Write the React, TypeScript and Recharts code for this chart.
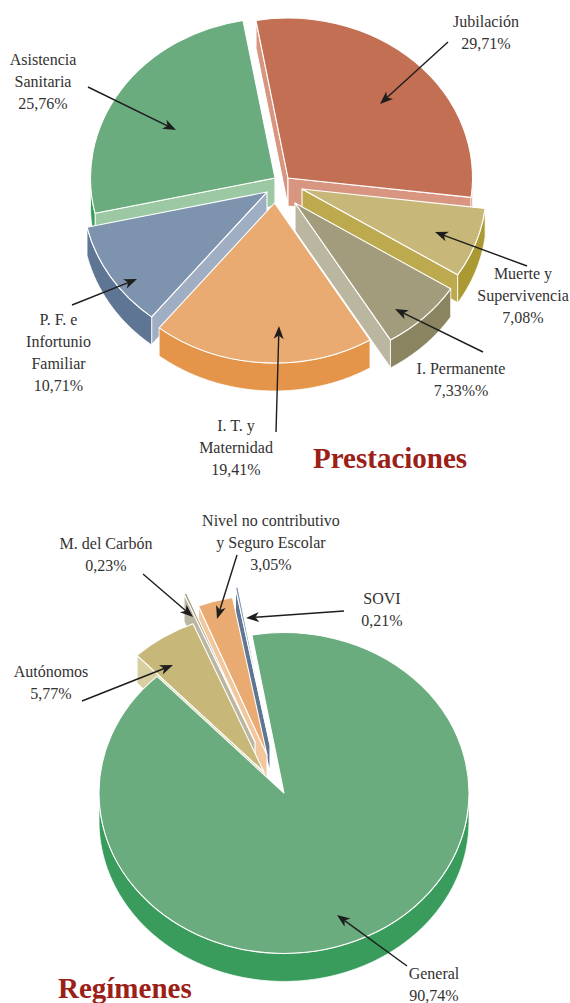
import React from 'react';
import { PieChart, Pie } from 'recharts';

// ---- data ----
const benefitNames = ['Jubilación', 'Muerte y Supervivencia', 'I. Permanente', 'I. T. y Maternidad', 'P. F. e Infortunio Familiar', 'Asistencia Sanitaria'];
const benefitValues = [29.71, 7.08, 7.33, 19.41, 10.71, 25.76];
const benefitPercentLabels = ['29,71%', '7,08%', '7,33%%', '19,41%', '10,71%', '25,76%'];
const schemeNames = ['General', 'Autónomos', 'M. del Carbón', 'Nivel no contributivo y Seguro Escolar', 'SOVI'];
const schemeValues = [90.74, 5.77, 0.23, 3.05, 0.21];
const schemePercentLabels = ['90,74%', '5,77%', '0,23%', '3,05%', '0,21%'];
const titles = ['Prestaciones', 'Regímenes'];

// ---- styles and layout (not data) ----
type Skin = { top: string; wall: string; cut: string | null; shift: [number, number] };
const benefitSkins: Skin[] = [
  { top: '#C26F53', wall: '#AE5A40', cut: '#D8957F', shift: [8, -12] },
  { top: '#C7B779', wall: '#AB9933', cut: '#BDA94E', shift: [22, -1] },
  { top: '#A29C7C', wall: '#8A8560', cut: '#BBB6A0', shift: [15, 13] },
  { top: '#E9AB71', wall: '#E49549', cut: '#F2C79D', shift: [-5.5, 13] },
  { top: '#7E93AD', wall: '#5E7694', cut: '#A0AEC4', shift: [-13, 2] },
  { top: '#6AAC7E', wall: '#3A9C5C', cut: '#9CC9A4', shift: [-5, -12] },
];
const schemeSkins: Skin[] = [
  { top: '#6AAC7E', wall: '#3A9C5C', cut: null, shift: [0, 0] },
  { top: '#C7B779', wall: '#AB9933', cut: '#D8CFA0', shift: [-20, -21] },
  { top: '#A29C7C', wall: '#8A8560', cut: '#BBB6A0', shift: [-29, -51] },
  { top: '#E9AB71', wall: '#E49549', cut: '#F2C79D', shift: [-17, -38] },
  { top: '#7E93AD', wall: '#5E7694', cut: '#5E7694', shift: [-14, -48] },
];
const benefitPaintOrder = [0, 5, 1, 4, 2, 3];
const schemePaintOrder = [4, 3, 2, 1, 0];
const SQUASH = 160 / 184.5;
const DEPTH = 28;
const SEAM = 1.1;
const INK = '#333232';
const ARROW = '#1e1d1d';
const TITLE_RED = '#9B2118';
const FONT = '"Liberation Serif", serif';

const rad = (d: number) => (d * Math.PI) / 180;

function Slice({ p, skin }: { p: any; skin: Skin }) {
  const rx = p.outerRadius;
  const ry = rx * SQUASH;
  const cx = p.cx + skin.shift[0];
  const cy = p.cy + skin.shift[1];
  const a0 = p.startAngle;
  const a1 = p.endAngle;
  const at = (a: number, dy = 0): [number, number] => [cx + rx * Math.cos(rad(a)), cy - ry * Math.sin(rad(a)) + dy];
  const f = (q: [number, number]) => `${q[0].toFixed(2)},${q[1].toFixed(2)}`;
  const large = Math.abs(a0 - a1) > 180 ? 1 : 0;
  const topPath = `M${f([cx, cy])} L${f(at(a0))} A${rx},${ry} 0 ${large} 1 ${f(at(a1))} Z`;
  const cutPath = (a: number) => `M${f([cx, cy])} L${f(at(a))} L${f(at(a, DEPTH))} L${f([cx, cy + DEPTH])} Z`;
  const lower: number[] = [];
  const steps = Math.max(2, Math.ceil(Math.abs(a0 - a1) * 2));
  for (let i = 0; i <= steps; i++) {
    const a = a0 + ((a1 - a0) * i) / steps;
    if (Math.sin(rad(a)) <= 0.001) lower.push(a);
  }
  const wallPath = lower.length > 1
    ? 'M' + lower.map((a) => f(at(a))).join(' L') + ' L' + lower.slice().reverse().map((a) => f(at(a, DEPTH))).join(' L') + ' Z'
    : '';
  const showStart = skin.cut && Math.cos(rad(a0)) < 0;
  const showEnd = skin.cut && Math.cos(rad(a1)) > 0;
  return (
    <g>
      {showStart && <path d={cutPath(a0)} fill={skin.cut!} stroke="#fff" strokeWidth={SEAM} strokeLinejoin="round" />}
      {showEnd && <path d={cutPath(a1)} fill={skin.cut!} stroke="#fff" strokeWidth={SEAM} strokeLinejoin="round" />}
      {wallPath && <path d={wallPath} fill={skin.wall} stroke="#fff" strokeWidth={0.8} strokeLinejoin="round" />}
      <path d={topPath} fill={skin.top} stroke="#fff" strokeWidth={SEAM} strokeLinejoin="round" />
    </g>
  );
}

const benefitData = benefitNames.map((name, i) => ({ name, value: benefitValues[i] }));
const schemeData = schemeNames.map((name, i) => ({ name, value: schemeValues[i] }));

type Note = { lines: string[]; x: number; y: number; from: [number, number]; to: [number, number] };
const benefitNotes: Note[] = [
  { lines: ['Jubilación', benefitPercentLabels[0]], x: 486, y: 27, from: [448, 42], to: [380, 104] },
  { lines: ['Muerte y', 'Supervivencia', benefitPercentLabels[1]], x: 523, y: 279, from: [527, 266], to: [435, 232] },
  { lines: ['I. Permanente', benefitPercentLabels[2]], x: 461, y: 374, from: [483, 352], to: [395, 309] },
  { lines: ['I. T. y', 'Maternidad', benefitPercentLabels[3]], x: 236, y: 431, from: [276, 432], to: [279, 326] },
  { lines: ['P. F. e', 'Infortunio', 'Familiar', benefitPercentLabels[4]], x: 58.5, y: 325, from: [72, 305], to: [137, 279] },
  { lines: ['Asistencia', 'Sanitaria', benefitPercentLabels[5]], x: 43, y: 65, from: [88, 87], to: [176, 130] },
];
const schemeNotes: Note[] = [
  { lines: ['General', schemePercentLabels[0]], x: 434, y: 979, from: [407, 966], to: [337, 915] },
  { lines: ['Autónomos', schemePercentLabels[1]], x: 51, y: 677, from: [82, 701], to: [173, 665] },
  { lines: ['M. del Carbón', schemePercentLabels[2]], x: 106, y: 549, from: [143, 574], to: [193, 617] },
  { lines: ['Nivel no contributivo', 'y Seguro Escolar', schemePercentLabels[3]], x: 271, y: 526, from: [237, 555], to: [217, 619] },
  { lines: ['SOVI', schemePercentLabels[4]], x: 382, y: 604, from: [344, 611], to: [246, 618] },
];

function NoteMark({ n }: { n: Note }) {
  const [x1, y1] = n.from;
  const [x2, y2] = n.to;
  const len = Math.hypot(x2 - x1, y2 - y1);
  const ux = (x2 - x1) / len;
  const uy = (y2 - y1) / len;
  const head = 13;
  const half = 5;
  const notch = 9.5;
  const bx = x2 - ux * head;
  const by = y2 - uy * head;
  const pts = [
    [x2, y2],
    [bx - uy * half, by + ux * half],
    [x2 - ux * notch, y2 - uy * notch],
    [bx + uy * half, by - ux * half],
  ].map((q) => q.map((v) => v.toFixed(2)).join(',')).join(' ');
  return (
    <g>
      <line x1={x1} y1={y1} x2={x2 - ux * notch} y2={y2 - uy * notch} stroke={ARROW} strokeWidth={1.4} />
      <polygon points={pts} fill={ARROW} />
      <text textAnchor="middle" fontFamily={FONT} fontSize={16} fill={INK}>
        {n.lines.map((t, j) => (
          <tspan key={j} x={n.x} y={n.y + j * 22.1}>{t}</tspan>
        ))}
      </text>
    </g>
  );
}

function layer(key: string, data: any[], k: number, skins: Skin[], cx: number, cy: number, r: number) {
  return (
    <Pie
      key={key}
      data={data}
      dataKey="value"
      nameKey="name"
      cx={cx}
      cy={cy}
      innerRadius={0}
      outerRadius={r}
      startAngle={100}
      endAngle={-260}
      stroke="none"
      label={false}
      labelLine={false}
      isAnimationActive={false}
      shape={(p: any) => (p.payload?.name === data[k].name || p.name === data[k].name ? <Slice p={p} skin={skins[k]} /> : <g />)}
    />
  );
}

function noteLayer(key: string, data: any[], notes: Note[], cx: number, cy: number, r: number, title: string, tx: number, ty: number) {
  return (
    <Pie
      key={key}
      data={data}
      dataKey="value"
      nameKey="name"
      cx={cx}
      cy={cy}
      innerRadius={0}
      outerRadius={r}
      startAngle={100}
      endAngle={-260}
      stroke="none"
      labelLine={false}
      isAnimationActive={false}
      shape={() => <g />}
      label={(p: any) => {
        const i = data.findIndex((d) => d.name === (p.payload?.name ?? p.name));
        return (
          <g>
            <NoteMark n={notes[i]} />
            {i === 0 && <text x={tx} y={ty} fontFamily={FONT} fontWeight={700} fontSize={29} fill={TITLE_RED}>{title}</text>}
          </g>
        );
      }}
    />
  );
}

export default function App() {
  return (
    <div style={{ position: 'absolute', left: 0, top: 0, width: 570, height: 1003, overflow: 'hidden', background: '#fff' }}>
      <PieChart width={570} height={1003} margin={{ top: 0, right: 0, bottom: 0, left: 0 }}>
        {benefitPaintOrder.map((k) => layer(`b${k}`, benefitData, k, benefitSkins, 280, 190, 184.5))}
        {schemePaintOrder.map((k) => layer(`s${k}`, schemeData, k, schemeSkins, 284, 793, 185))}
        {noteLayer('bn', benefitData, benefitNotes, 280, 190, 184.5, titles[0], 313, 468)}
        {noteLayer('sn', schemeData, schemeNotes, 284, 793, 185, titles[1], 58, 998)}
      </PieChart>
    </div>
  );
}
